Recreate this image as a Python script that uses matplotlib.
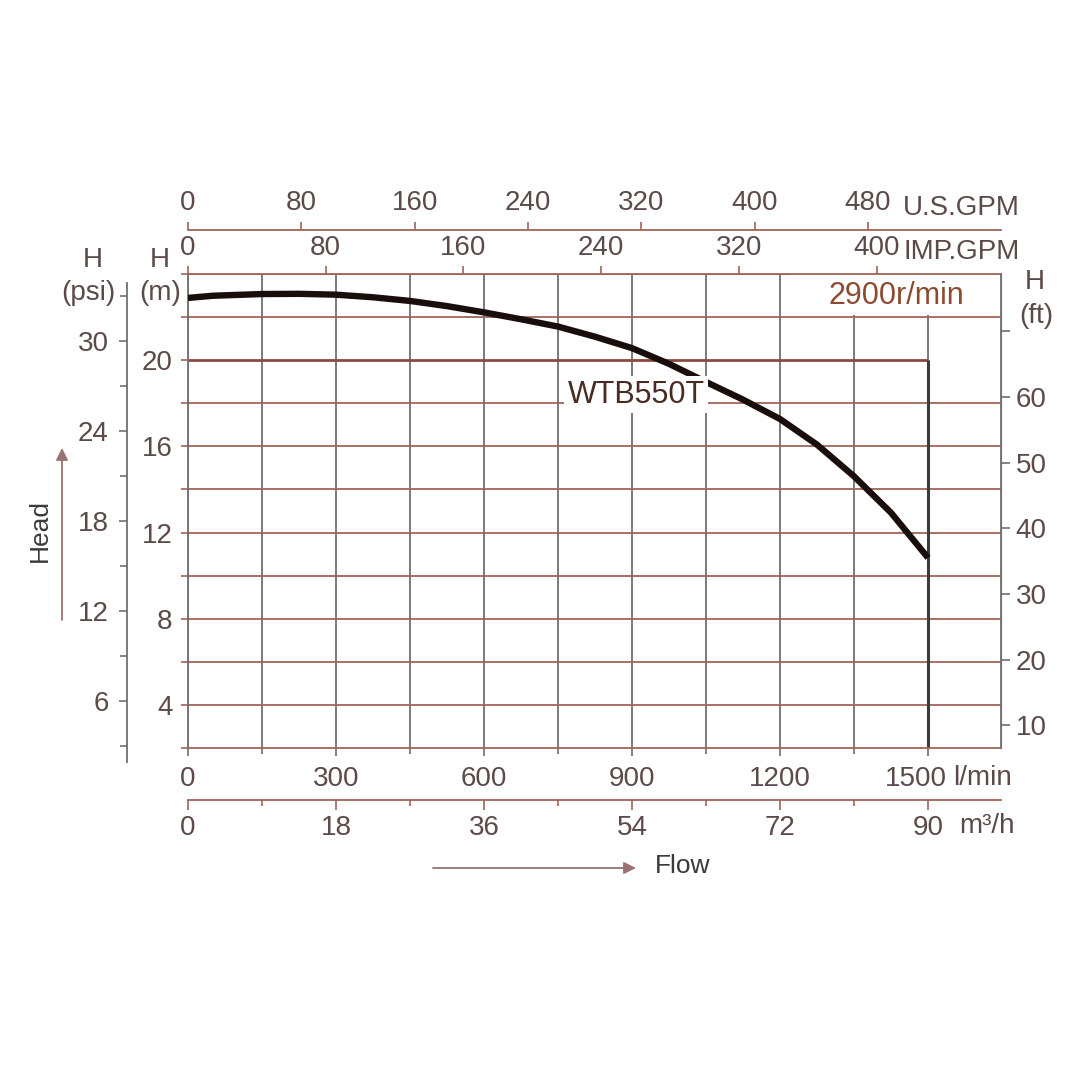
import numpy as np
import matplotlib
matplotlib.use("Agg")
import matplotlib.pyplot as plt
from matplotlib.ticker import MultipleLocator, FixedLocator
from matplotlib.patches import Rectangle
from matplotlib.transforms import ScaledTranslation

plt.rcParams['font.family'] = ['Liberation Sans', 'DejaVu Sans']

# pump curve (flow in l/min, head in m)
flow_lpm = [0, 50, 150, 225, 300, 375, 450, 525, 600, 675, 750, 825, 900, 975,
            1050, 1125, 1200, 1275, 1350, 1425, 1500]
head_m = [22.89, 22.99, 23.07, 23.08, 23.04, 22.92, 22.75, 22.51, 22.22, 21.90, 21.56, 21.09, 20.56, 19.83,
          18.99, 18.17, 17.27, 16.08, 14.61, 12.92, 10.83]
rated_flow = 1500
rated_head = 20
model = "WTB550T"
speed = "2900r/min"

lpm_ticks = [0, 300, 600, 900, 1200, 1500]
m3h_ticks = [0, 18, 36, 54, 72, 90]
us_gpm_ticks = [0, 80, 160, 240, 320, 400, 480]
imp_gpm_ticks = [0, 80, 160, 240, 320, 400]
m_ticks = [4, 8, 12, 16, 20]
psi_ticks = [6, 12, 18, 24, 30]
ft_ticks = [10, 20, 30, 40, 50, 60, 70]
ft_labels = ['10', '20', '30', '40', '50', '60', '']

# scale factors of the printed side axes (as drawn in the chart)
US_LPM = 2.871
IMP_LPM = 3.49
M3H_LPM = 1000 / 60
FT_M = 0.3048

TXT = '#5b4a48'
BROWN = '#a0645a'
GRAY = '#707070'
FS = 20


def fx(px):
    return px / 1080


def fy(py):
    return 1 - py / 1080


fig = plt.figure(figsize=(10.8, 10.8), dpi=100)
ax = fig.add_axes([fx(188), fy(748), 813 / 1080, 474 / 1080])
xmax = 813 / ((928 - 188) / 1500)
ax.set_xlim(0, xmax)
ax.set_ylim(2, 24)

# grid
ax.xaxis.set_major_locator(FixedLocator(lpm_ticks))
ax.xaxis.set_minor_locator(MultipleLocator(150))
ax.xaxis.grid(True, which='both', color=GRAY, lw=1.3)
ax.yaxis.set_major_locator(FixedLocator(m_ticks))
ax.yaxis.set_minor_locator(MultipleLocator(2))
for lvl in np.arange(4, 24, 2):
    if lvl != rated_head:
        ax.axhline(lvl, color=BROWN, lw=1.3, zorder=1)
ax.set_axisbelow(True)

ax.hlines(rated_head, 0, rated_flow, color='#8a4a40', lw=2, zorder=2)
ax.vlines(rated_flow, 2, rated_head, color='#3c3c3c', lw=2.2, zorder=2)
ax.plot(flow_lpm, head_m, color='#1a0e0c', lw=4.6, zorder=3, solid_capstyle='butt')

# white patch behind the speed label
ax.add_patch(Rectangle((1220, 22.08), xmax - 1220, 1.92, facecolor='white', edgecolor='none', zorder=1.5))
ax.text(1435, 22.98, speed, color='#8c4a30', fontsize=22, ha='center', va='center', zorder=6)
ax.text(908, 18.4, model, color='#4a2a20', fontsize=22, ha='center', va='center', zorder=6,
        bbox=dict(facecolor='white', edgecolor='none', boxstyle='square,pad=0.12'))

for s in ['left', 'right']:
    ax.spines[s].set_color(GRAY)
    ax.spines[s].set_linewidth(1.3)
for s in ['top', 'bottom']:
    ax.spines[s].set_color(BROWN)
    ax.spines[s].set_linewidth(1.3)

ax.tick_params(axis='x', which='major', direction='out', length=6, width=1.2, color=GRAY,
               labelsize=FS, labelcolor=TXT, pad=7)
ax.tick_params(axis='x', which='minor', direction='out', length=4, width=1.2, color=GRAY)
ax.tick_params(axis='y', which='both', direction='out', length=5, width=1.2, color=BROWN,
               labelsize=FS, labelcolor=TXT, pad=6)
# last flow label sits a bit left of its tick, making room for the unit
last = ax.xaxis.get_major_ticks()[-1]
last.label1.set_transform(last.label1.get_transform() + ScaledTranslation(-0.12, 0, fig.dpi_scale_trans))

# right axis in ft
axr = ax.secondary_yaxis('right', functions=(lambda m: m / FT_M, lambda f: f * FT_M))
axr.set_yticks(ft_ticks)
axr.set_yticklabels(ft_labels)
axr.tick_params(direction='out', length=6.5, width=1.2, color=GRAY, labelsize=FS, labelcolor=TXT, pad=4)
axr.spines['right'].set_color(GRAY)

# bottom m3/h axis
axb = ax.secondary_xaxis(-52 / 474, functions=(lambda q: q / M3H_LPM, lambda v: v * M3H_LPM))
axb.xaxis.set_major_locator(FixedLocator(m3h_ticks))
axb.xaxis.set_minor_locator(MultipleLocator(9))
axb.tick_params(which='major', direction='out', length=7, width=1.2, color=BROWN,
                labelsize=FS, labelcolor=TXT, pad=4)
axb.tick_params(which='minor', direction='out', length=4, width=1.2, color=BROWN)
axb.spines['bottom'].set_color(BROWN)
axb.spines['bottom'].set_linewidth(1.3)

# top IMP GPM axis
axi = ax.secondary_xaxis('top', functions=(lambda q: q / IMP_LPM, lambda g: g * IMP_LPM))
axi.set_xticks(imp_gpm_ticks)
axi.tick_params(direction='out', length=6, width=1.2, color=BROWN, labelsize=FS, labelcolor=TXT, pad=3)
axi.spines['top'].set_color(BROWN)

# top US GPM axis
axu = ax.secondary_xaxis(1 + 44 / 474, functions=(lambda q: q / US_LPM, lambda g: g * US_LPM))
axu.set_xticks(us_gpm_ticks)
axu.tick_params(direction='out', length=6, width=1.2, color=BROWN, labelsize=FS, labelcolor=TXT, pad=4)
axu.spines['top'].set_color(BROWN)
axu.spines['top'].set_linewidth(1.3)

# psi axis
axp = fig.add_axes([fx(127), fy(762), 1 / 1080, (762 - 283) / 1080])
axp.set_ylim(1.93, 33.87)
axp.patch.set_visible(False)
for s in ['right', 'top', 'bottom']:
    axp.spines[s].set_visible(False)
axp.spines['left'].set_color(GRAY)
axp.spines['left'].set_linewidth(1.3)
axp.set_xticks([])
axp.yaxis.set_major_locator(FixedLocator(psi_ticks))
axp.yaxis.set_minor_locator(FixedLocator([3, 9, 15, 21, 27, 33]))
axp.tick_params(axis='y', which='major', direction='out', length=6, width=1.2, color=GRAY,
                labelsize=FS, labelcolor=TXT, pad=7)
axp.tick_params(axis='y', which='minor', direction='out', length=5, width=1.2, color=GRAY)

# axis titles and units
kw = dict(fontsize=FS, color=TXT, va='center')
fig.text(fx(93), fy(260), 'H', ha='center', **kw)
fig.text(fx(88), fy(293), '(psi)', ha='center', **kw)
fig.text(fx(160), fy(260), 'H', ha='center', **kw)
fig.text(fx(160), fy(293), '(m)', ha='center', **kw)
fig.text(fx(1035), fy(282), 'H', ha='center', **kw)
fig.text(fx(1036), fy(316), '(ft)', ha='center', **kw)
fig.text(fx(953), fy(778), 'l/min', ha='left', **kw)
fig.text(fx(959), fy(826), 'm³/h', ha='left', **kw)
fig.text(fx(903), fy(208), 'U.S.GPM', ha='left', **kw)
fig.text(fx(904), fy(252), 'IMP.GPM', ha='left', **kw)

fig.text(fx(40), fy(530), 'Head', rotation=90, ha='center', va='center', fontsize=19, color='#3a3a3a')
fig.text(fx(655), fy(866), 'Flow', ha='left', va='center', fontsize=19, color='#3a3a3a')
arrow = dict(arrowstyle='-|>', color='#9a7272', lw=1.3, mutation_scale=18, shrinkA=0, shrinkB=0)
ax.annotate('', xy=(fx(62), fy(448)), xytext=(fx(62), fy(620)), xycoords='figure fraction',
            textcoords='figure fraction', arrowprops=arrow, annotation_clip=False)
ax.annotate('', xy=(fx(636), fy(868)), xytext=(fx(433), fy(868)), xycoords='figure fraction',
            textcoords='figure fraction', arrowprops=arrow, annotation_clip=False)

fig.savefig('out.png', dpi=100, facecolor='white')
